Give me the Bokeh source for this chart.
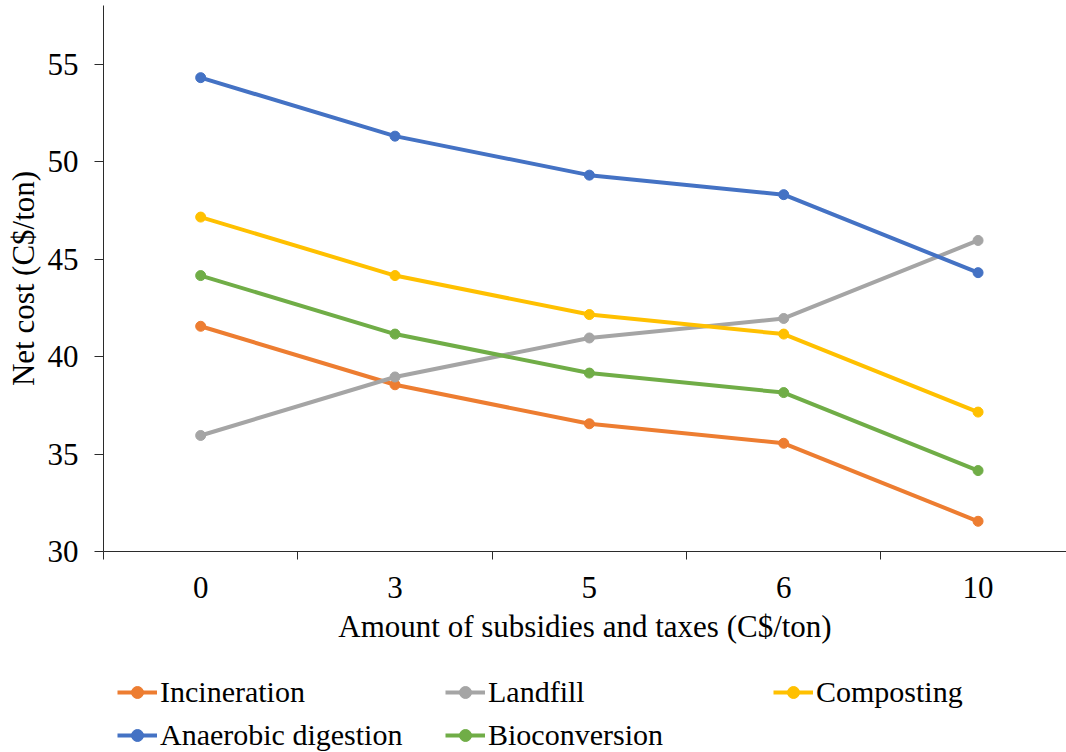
from bokeh.plotting import figure
from bokeh.layouts import column
from bokeh.models import Range1d, FixedTicker, Legend, LegendItem
from bokeh.embed import file_html
from bokeh.resources import INLINE

# Subsidy / tax levels (C$/ton) and net cost of each treatment option (C$/ton)
subsidy_labels = ["0", "3", "5", "6", "10"]
incineration = [41.55, 38.55, 36.55, 35.55, 31.55]
landfill = [35.95, 38.95, 40.95, 41.95, 45.95]
composting = [47.15, 44.15, 42.15, 41.15, 37.15]
anaerobic_digestion = [54.3, 51.3, 49.3, 48.3, 44.3]
bioconversion = [44.15, 41.15, 39.15, 38.15, 34.15]

series_names = ["Incineration", "Landfill", "Composting", "Anaerobic digestion", "Bioconversion"]
series_values = [incineration, landfill, composting, anaerobic_digestion, bioconversion]
series_colors = ["#ED7D31", "#A5A5A5", "#FFC000", "#4472C4", "#70AD47"]

y_ticks = [30, 35, 40, 45, 50, 55]

FONT = "Liberation Serif"
FS = "31px"
LEGEND_FS = "30px"
AXIS_COLOR = "#2b2b2b"
LINE_W = 4
MARK_SIZE = 10

# each category occupies one unit band; points sit in the middle of their band
xs = [i + 0.5 for i in range(len(subsidy_labels))]

p = figure(
    width=1066, height=655,
    x_range=Range1d(0, 4.955), y_range=Range1d(30, 58),
    output_backend="svg", toolbar_location=None,
    min_border_left=103, min_border_right=0, min_border_top=5, min_border_bottom=104,
)
p.outline_line_color = None
p.xgrid.visible = False
p.ygrid.visible = False
p.background_fill_color = "white"
p.border_fill_color = "white"

# x axis: labels at band centres, tick marks at band boundaries
xa = p.xaxis[0]
xa.ticker = FixedTicker(ticks=xs, minor_ticks=[0, 1, 2, 3, 4, 5])
xa.major_label_overrides = {x: lab for x, lab in zip(xs, subsidy_labels)}
xa.major_tick_out = 0
xa.major_tick_in = 0
xa.minor_tick_out = 8
xa.minor_tick_in = 0
xa.minor_tick_line_color = AXIS_COLOR
xa.axis_line_color = AXIS_COLOR
xa.major_label_standoff = 17
xa.major_label_text_font = FONT
xa.major_label_text_font_size = FS
xa.major_label_text_color = "black"
xa.axis_label = "Amount of subsidies and taxes (C$/ton)"
xa.axis_label_text_font = FONT
xa.axis_label_text_font_size = FS
xa.axis_label_text_font_style = "normal"
xa.axis_label_text_color = "black"
xa.axis_label_standoff = 8

ya = p.yaxis[0]
ya.ticker = FixedTicker(ticks=y_ticks, minor_ticks=[])
ya.major_tick_out = 9
ya.major_tick_in = 0
ya.major_tick_line_color = AXIS_COLOR
ya.axis_line_color = AXIS_COLOR
ya.major_label_standoff = 16
ya.major_label_text_font = FONT
ya.major_label_text_font_size = FS
ya.major_label_text_color = "black"
ya.axis_label = "Net cost (C$/ton)"
ya.axis_label_text_font = FONT
ya.axis_label_text_font_size = FS
ya.axis_label_text_font_style = "normal"
ya.axis_label_text_color = "black"
ya.axis_label_standoff = 4

for name, vals, color in zip(series_names, series_values, series_colors):
    p.line(xs, vals, line_color=color, line_width=LINE_W)
    p.scatter(xs, vals, marker="circle", size=MARK_SIZE, fill_color=color, line_color=color)

# legend strip under the chart; its frame lines up with the chart frame above,
# and the series glyphs it carries lie outside its (0..1) view
leg_fig = figure(
    width=1066, height=97,
    x_range=Range1d(0, 1), y_range=Range1d(0, 1),
    output_backend="svg", toolbar_location=None,
    min_border=0, outline_line_color=None,
)
leg_fig.axis.visible = False
leg_fig.grid.visible = False

items = []
for name, vals, color in zip(series_names, series_values, series_colors):
    ln = leg_fig.line(xs, vals, line_color=color, line_width=LINE_W)
    pt = leg_fig.scatter(xs, vals, marker="circle", size=MARK_SIZE, fill_color=color, line_color=color)
    items.append(LegendItem(label=name, renderers=[ln, pt]))

legend = Legend(
    items=items,
    orientation="horizontal",
    ncols=3,
    label_text_font=FONT,
    label_text_font_size=LEGEND_FS,
    label_text_color="black",
    glyph_width=40,
    glyph_height=30,
    label_height=30,
    label_width=276,
    label_standoff=3,
    spacing=9,
    padding=0,
    margin=0,
    border_line_color=None,
    background_fill_alpha=0,
    location=(14, 0),
)
leg_fig.add_layout(legend)

page = column(p, leg_fig, spacing=0)
open("out.html", "w").write(file_html(page, INLINE))
